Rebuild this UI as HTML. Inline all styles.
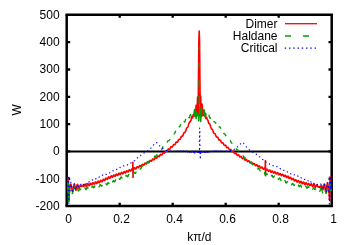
<!DOCTYPE html>
<html><head><meta charset="utf-8">
<style>
html,body{margin:0;padding:0;background:#fff;}
svg{display:block;will-change:transform;}
text{font-family:"Liberation Sans",sans-serif;font-size:12px;fill:#000;}
</style></head>
<body>
<svg width="350" height="245" viewBox="0 0 350 245">
<rect width="350" height="245" fill="#fff"/>
<g fill="none" stroke="#000">
<path d="M65.45 14.78H332.95" stroke-width="2.55"/>
<path d="M65.45 206.05H332.95" stroke-width="2.4"/>
<path d="M66.7 14.78V206.05M331.7 14.78V206.05" stroke-width="2.5"/>
<path d="M66.7 178.77h3.5M331.7 178.77h-3.2M66.7 151.45h3.5M331.7 151.45h-3.2M66.7 124.13h3.5M331.7 124.13h-3.2M66.7 96.80h3.5M331.7 96.80h-3.2M66.7 69.48h3.5M331.7 69.48h-3.2M66.7 42.15h3.5M331.7 42.15h-3.2M119.70 206.05v-3.2M119.70 14.78v3.0M172.70 206.05v-3.2M172.70 14.78v3.0M225.70 206.05v-3.2M225.70 14.78v3.0M278.70 206.05v-3.2M278.70 14.78v3.0" stroke-width="2.3"/>
<path d="M66.7 151.45H331.7" stroke-width="2.15"/>
</g>
<g fill="none" stroke-linejoin="round" stroke-linecap="butt">
<path d="M67.60 187.31 L67.80 189.57 L68.01 178.61 L68.21 179.41 L68.41 179.84 L68.62 201.11 L68.82 200.52 L69.02 199.13 L69.22 192.98 L69.43 192.00 L69.63 190.55 L69.83 188.92 L70.04 186.59 L70.24 184.82 L70.44 184.32 L70.65 184.83 L70.85 183.96 L71.05 184.74 L71.26 186.08 L71.46 185.92 L71.66 187.60 L71.86 188.97 L72.07 189.08 L72.27 190.11 L72.47 190.90 L72.68 190.29 L72.88 190.41 L73.08 190.03 L73.29 189.06 L73.49 187.81 L73.69 186.44 L73.90 185.57 L74.10 184.65 L74.30 184.27 L74.50 184.22 L74.71 185.00 L74.91 185.85 L75.11 186.74 L75.32 188.11 L75.52 189.03 L75.72 189.86 L75.93 190.09 L76.13 189.99 L76.33 189.14 L76.54 188.11 L76.74 187.01 L76.94 185.73 L77.14 185.03 L77.35 184.27 L77.55 184.44 L77.75 184.75 L77.96 185.49 L78.16 186.45 L78.36 187.29 L78.57 187.94 L78.77 188.19 L78.97 188.22 L79.18 188.05 L79.38 187.43 L79.58 186.80 L79.78 186.22 L79.99 185.68 L80.19 185.30 L80.39 185.35 L80.60 185.60 L80.80 185.83 L81.00 186.27 L81.21 186.49 L81.41 186.55 L81.61 186.40 L81.82 186.25 L82.02 185.87 L82.22 185.64 L82.42 185.51 L82.63 185.54 L82.83 185.64 L83.03 185.85 L83.24 186.15 L83.44 186.38 L83.64 186.46 L83.85 186.35 L84.05 186.08 L84.25 185.64 L84.46 185.16 L84.66 184.69 L84.86 184.34 L85.06 184.22 L85.27 184.39 L85.47 184.76 L85.67 185.24 L85.88 185.77 L86.08 186.21 L86.28 186.38 L86.49 186.38 L86.69 186.04 L86.89 185.52 L87.10 184.89 L87.30 184.27 L87.50 183.76 L87.70 183.54 L87.91 183.54 L88.11 183.85 L88.31 184.34 L88.52 184.86 L88.72 185.33 L88.92 185.63 L89.13 185.68 L89.33 185.45 L89.53 185.00 L89.74 184.45 L89.94 183.90 L90.14 183.44 L90.34 183.22 L90.55 183.22 L90.75 183.45 L90.95 183.82 L91.16 184.23 L91.36 184.58 L91.56 184.79 L91.77 184.75 L91.97 184.51 L92.17 184.11 L92.38 183.61 L92.58 183.16 L92.78 182.83 L92.98 182.69 L93.19 182.78 L93.39 183.06 L93.59 183.44 L93.80 183.80 L94.00 184.07 L94.20 184.17 L94.41 184.03 L94.61 183.69 L94.81 183.22 L95.02 182.71 L95.22 182.27 L95.42 181.98 L95.62 181.93 L95.83 182.10 L96.03 182.43 L96.23 182.84 L96.44 183.23 L96.64 183.49 L96.84 183.53 L97.05 183.34 L97.25 182.95 L97.45 182.43 L97.66 181.89 L97.86 181.44 L98.06 181.17 L98.26 181.13 L98.47 181.32 L98.67 181.67 L98.87 182.09 L99.08 182.47 L99.28 182.71 L99.48 182.73 L99.69 182.52 L99.89 182.10 L100.09 181.58 L100.30 181.05 L100.50 180.62 L100.70 180.37 L100.91 180.35 L101.11 180.54 L101.31 180.87 L101.51 181.26 L101.72 181.58 L101.92 181.75 L102.12 181.71 L102.33 181.44 L102.53 181.00 L102.73 180.46 L102.94 179.94 L103.14 179.54 L103.34 179.33 L103.55 179.34 L103.75 179.54 L103.95 179.87 L104.15 180.22 L104.36 180.49 L104.56 180.60 L104.76 180.49 L104.97 180.17 L105.17 179.69 L105.37 179.15 L105.58 178.64 L105.78 178.28 L105.98 178.11 L106.19 178.16 L106.39 178.40 L106.59 178.74 L106.79 179.08 L107.00 179.32 L107.20 179.39 L107.40 179.23 L107.61 178.87 L107.81 178.38 L108.01 177.84 L108.22 177.36 L108.42 177.03 L108.62 176.91 L108.83 177.01 L109.03 177.28 L109.23 177.64 L109.43 177.98 L109.64 178.21 L109.84 178.25 L110.04 178.07 L110.25 177.70 L110.45 177.20 L110.65 176.68 L110.86 176.24 L111.06 175.96 L111.26 175.90 L111.47 176.04 L111.67 176.34 L111.87 176.70 L112.07 177.03 L112.28 177.23 L112.48 177.23 L112.68 177.02 L112.89 176.63 L113.09 176.14 L113.29 175.64 L113.50 175.24 L113.70 175.01 L113.90 174.99 L114.11 175.17 L114.31 175.49 L114.51 175.85 L114.71 176.16 L114.92 176.32 L115.12 176.28 L115.32 176.03 L115.53 175.63 L115.73 175.13 L115.93 174.65 L116.14 174.29 L116.34 174.11 L116.54 174.13 L116.75 174.35 L116.95 174.68 L117.15 175.04 L117.35 175.32 L117.56 175.44 L117.76 175.37 L117.96 175.09 L118.17 174.66 L118.37 174.17 L118.57 173.72 L118.78 173.39 L118.98 173.25 L119.18 173.32 L119.39 173.56 L119.59 173.90 L119.79 174.25 L119.99 174.50 L120.20 174.59 L120.40 174.47 L120.60 174.16 L120.81 173.72 L121.01 173.24 L121.21 172.80 L121.42 172.51 L121.62 172.42 L121.82 172.52 L122.03 172.78 L122.23 173.13 L122.43 173.46 L122.63 173.68 L122.84 173.73 L123.04 173.57 L123.24 173.24 L123.45 172.78 L123.65 172.30 L123.85 171.90 L124.06 171.64 L124.26 171.59 L124.46 171.72 L124.67 172.00 L124.87 172.34 L125.07 172.65 L125.27 172.84 L125.48 172.84 L125.68 172.65 L125.88 172.29 L126.09 171.82 L126.29 171.36 L126.49 170.98 L126.70 170.76 L126.90 170.74 L127.10 170.90 L127.31 171.19 L127.51 171.53 L127.71 171.81 L127.91 171.96 L128.12 171.92 L128.32 171.68 L128.52 171.29 L128.73 170.83 L128.93 170.37 L129.13 170.02 L129.34 169.83 L129.54 169.85 L129.74 170.03 L129.95 170.33 L130.15 170.65 L130.35 170.90 L130.55 171.01 L130.76 170.93 L130.96 170.66 L131.16 170.25 L131.37 169.77 L131.57 169.33 L131.77 169.00 L131.98 168.85 L132.18 168.89 L132.38 169.10 L132.59 169.40 L132.79 169.70 L132.65 169.92 L132.90 162.42 L133.00 177.42 L133.25 169.92 L133.19 169.98 L133.40 169.86 L133.60 169.55 L133.80 169.12 L134.01 168.64 L134.21 168.22 L134.41 167.92 L134.62 167.80 L134.82 167.87 L135.02 168.09 L135.23 168.39 L135.43 168.67 L135.63 168.86 L135.83 168.88 L136.04 168.71 L136.24 168.37 L136.44 167.93 L136.65 167.46 L136.85 167.05 L137.05 166.79 L137.26 166.70 L137.46 166.80 L137.66 167.03 L137.87 167.32 L138.07 167.58 L138.27 167.73 L138.47 167.71 L138.68 167.50 L138.88 167.14 L139.08 166.68 L139.29 166.22 L139.49 165.84 L139.69 165.60 L139.90 165.55 L140.10 165.67 L140.30 165.91 L140.51 166.20 L140.71 166.43 L140.91 166.54 L141.11 166.48 L141.32 166.24 L141.52 165.85 L141.72 165.38 L141.93 164.93 L142.13 164.57 L142.33 164.37 L142.54 164.35 L142.74 164.49 L142.94 164.74 L143.15 165.01 L143.35 165.22 L143.55 165.29 L143.75 165.19 L143.96 164.91 L144.16 164.50 L144.36 164.03 L144.57 163.59 L144.77 163.26 L144.97 163.09 L145.18 163.10 L145.38 163.26 L145.58 163.51 L145.79 163.77 L145.99 163.94 L146.19 163.98 L146.39 163.84 L146.60 163.53 L146.80 163.10 L147.00 162.63 L147.21 162.21 L147.41 161.91 L147.61 161.77 L147.82 161.81 L148.02 161.98 L148.22 162.23 L148.43 162.47 L148.63 162.61 L148.83 162.61 L149.03 162.43 L149.24 162.09 L149.44 161.65 L149.64 161.19 L149.85 160.78 L150.05 160.51 L150.25 160.40 L150.46 160.46 L150.66 160.65 L150.86 160.89 L151.07 161.11 L151.27 161.22 L151.47 161.17 L151.67 160.96 L151.88 160.59 L152.08 160.14 L152.28 159.69 L152.49 159.30 L152.69 159.06 L152.89 158.98 L153.10 159.06 L153.30 159.26 L153.50 159.49 L153.71 159.68 L153.91 159.76 L154.11 159.67 L154.31 159.42 L154.52 159.03 L154.72 158.58 L154.92 158.13 L155.13 157.77 L155.33 157.55 L155.53 157.50 L155.74 157.60 L155.94 157.80 L156.14 158.02 L156.35 158.18 L156.55 158.22 L156.75 158.10 L156.95 157.81 L157.16 157.40 L157.36 156.94 L157.56 156.51 L157.77 156.17 L157.97 155.98 L158.17 155.95 L158.38 156.07 L158.58 156.26 L158.78 156.47 L158.99 156.60 L159.19 156.60 L159.39 156.44 L159.59 156.12 L159.80 155.70 L160.00 155.23 L160.20 154.81 L160.41 154.50 L160.61 154.33 L160.81 154.33 L161.02 154.45 L161.22 154.65 L161.42 154.83 L161.63 154.93 L161.83 154.89 L162.03 154.69 L162.23 154.35 L162.44 153.91 L162.64 153.45 L162.84 153.04 L163.05 152.75 L163.25 152.61 L163.45 152.62 L163.66 152.76 L163.86 152.94 L164.06 153.10 L164.27 153.17 L164.47 153.09 L164.67 152.86 L164.87 152.48 L165.08 152.03 L165.28 151.57 L165.48 151.18 L165.69 150.91 L165.89 150.80 L166.09 150.83 L166.30 150.97 L166.50 151.14 L166.70 151.27 L166.91 151.30 L167.11 151.18 L167.31 150.91 L167.52 150.51 L167.72 150.05 L167.92 149.59 L168.12 149.21 L168.33 148.96 L168.53 148.87 L168.73 148.91 L168.94 149.04 L169.14 149.19 L169.34 149.29 L169.55 149.27 L169.75 149.11 L169.95 148.80 L170.16 148.37 L170.36 147.90 L170.56 147.44 L170.76 147.08 L170.97 146.84 L171.17 146.76 L171.37 146.81 L171.58 146.93 L171.78 147.06 L171.98 147.12 L172.19 147.07 L172.39 146.86 L172.59 146.51 L172.80 146.07 L173.00 145.58 L173.20 145.13 L173.40 144.78 L173.61 144.56 L173.81 144.50 L174.01 144.54 L174.22 144.66 L174.42 144.76 L174.62 144.79 L174.83 144.69 L175.03 144.44 L175.23 144.06 L175.44 143.59 L175.64 143.10 L175.84 142.66 L176.04 142.32 L176.25 142.12 L176.45 142.06 L176.65 142.11 L176.86 142.20 L177.06 142.27 L177.26 142.25 L177.47 142.10 L177.67 141.81 L177.87 141.39 L178.08 140.90 L178.28 140.39 L178.48 139.95 L178.68 139.61 L178.89 139.41 L179.09 139.35 L179.29 139.38 L179.50 139.44 L179.70 139.46 L179.90 139.39 L180.11 139.19 L180.31 138.84 L180.51 138.37 L180.72 137.84 L180.92 137.31 L181.12 136.85 L181.32 136.51 L181.53 136.31 L181.73 136.23 L181.93 136.23 L182.14 136.26 L182.34 136.23 L182.54 136.10 L182.75 135.82 L182.95 135.41 L183.15 134.88 L183.36 134.30 L183.56 133.74 L183.76 133.25 L183.96 132.88 L184.17 132.65 L184.37 132.54 L184.57 132.50 L184.78 132.46 L184.98 132.36 L185.18 132.13 L185.39 131.75 L185.59 131.23 L185.79 130.60 L186.00 129.93 L186.20 129.28 L186.40 128.73 L186.60 128.30 L186.81 128.00 L187.01 127.82 L187.21 127.69 L187.42 127.55 L187.62 127.34 L187.82 126.99 L188.03 126.50 L188.23 125.89 L188.43 125.16 L188.64 124.39 L188.84 123.71 L189.04 123.21 L189.24 122.87 L189.45 122.61 L189.65 122.32 L189.85 121.97 L190.06 121.62 L190.26 121.37 L190.46 121.24 L190.67 121.10 L190.87 120.70 L191.07 119.89 L191.28 118.74 L191.48 117.60 L191.68 116.91 L191.88 116.92 L192.09 117.47 L192.29 118.01 L192.49 117.96 L192.70 117.11 L192.90 115.81 L193.10 114.78 L193.31 114.62 L193.51 115.31 L193.71 116.12 L193.92 116.06 L194.12 114.59 L194.32 112.15 L194.52 110.07 L194.73 109.69 L194.93 111.40 L195.13 114.16 L195.34 115.97 L195.54 115.19 L195.74 111.78 L195.95 107.59 L196.15 105.30 L196.35 106.60 L196.56 110.77 L196.76 114.77 L196.96 115.14 L197.16 110.41 L197.37 102.67 L197.57 96.95 L197.77 97.99 L197.98 106.17 L198.18 116.32 L198.38 95.07 L198.59 94.71 L198.79 94.30 L198.99 93.90 L198.30 96.00 L198.85 42.00 L199.20 31.00 L199.55 42.00 L200.10 96.00 L199.40 93.47 L199.60 93.54 L199.80 93.80 L200.01 94.23 L200.21 109.28 L200.41 99.65 L200.62 96.14 L200.82 100.50 L201.02 108.80 L201.23 115.18 L201.43 116.14 L201.63 112.30 L201.84 107.02 L202.04 104.01 L202.24 105.06 L202.44 109.12 L202.65 113.46 L202.85 115.62 L203.05 114.90 L203.26 112.51 L203.46 110.50 L203.66 110.32 L203.87 111.97 L204.07 114.26 L204.27 115.74 L204.48 115.72 L204.68 114.58 L204.88 113.43 L205.08 113.26 L205.29 114.34 L205.49 116.13 L205.69 117.74 L205.90 118.51 L206.10 118.37 L206.30 117.79 L206.51 117.38 L206.71 117.49 L206.91 118.09 L207.12 118.84 L207.32 119.41 L207.52 119.72 L207.72 119.94 L207.93 120.30 L208.13 120.94 L208.33 121.78 L208.54 122.60 L208.74 123.20 L208.94 123.50 L209.15 123.59 L209.35 123.63 L209.55 123.76 L209.76 124.04 L209.96 124.46 L210.16 124.99 L210.36 125.61 L210.57 126.33 L210.77 127.05 L210.97 127.71 L211.18 128.24 L211.38 128.63 L211.58 128.89 L211.79 129.04 L211.99 129.14 L212.19 129.27 L212.40 129.49 L212.60 129.83 L212.80 130.31 L213.00 130.89 L213.21 131.53 L213.41 132.16 L213.61 132.71 L213.82 133.13 L214.02 133.40 L214.22 133.53 L214.43 133.57 L214.63 133.59 L214.83 133.64 L215.04 133.79 L215.24 134.07 L215.44 134.49 L215.64 135.01 L215.85 135.57 L216.05 136.12 L216.25 136.58 L216.46 136.92 L216.66 137.10 L216.86 137.17 L217.07 137.15 L217.27 137.11 L217.47 137.13 L217.68 137.26 L217.88 137.53 L218.08 137.92 L218.28 138.42 L218.49 138.95 L218.69 139.44 L218.89 139.85 L219.10 140.12 L219.30 140.24 L219.50 140.25 L219.71 140.19 L219.91 140.12 L220.11 140.13 L220.32 140.25 L220.52 140.51 L220.72 140.90 L220.92 141.38 L221.13 141.88 L221.33 142.34 L221.53 142.69 L221.74 142.91 L221.94 142.98 L222.14 142.94 L222.35 142.84 L222.55 142.75 L222.75 142.75 L222.96 142.87 L223.16 143.14 L223.36 143.53 L223.56 144.01 L223.77 144.49 L223.97 144.92 L224.17 145.23 L224.38 145.40 L224.58 145.43 L224.78 145.35 L224.99 145.23 L225.19 145.14 L225.39 145.14 L225.60 145.27 L225.80 145.56 L226.00 145.97 L226.20 146.44 L226.41 146.91 L226.61 147.31 L226.81 147.59 L227.02 147.71 L227.22 147.70 L227.42 147.59 L227.63 147.45 L227.83 147.36 L228.03 147.37 L228.24 147.52 L228.44 147.82 L228.64 148.24 L228.84 148.71 L229.05 149.17 L229.25 149.54 L229.45 149.77 L229.66 149.86 L229.86 149.80 L230.06 149.66 L230.27 149.51 L230.47 149.41 L230.67 149.43 L230.88 149.60 L231.08 149.92 L231.28 150.34 L231.48 150.81 L231.69 151.25 L231.89 151.59 L232.09 151.78 L232.30 151.82 L232.50 151.72 L232.70 151.55 L232.91 151.39 L233.11 151.29 L233.31 151.33 L233.52 151.52 L233.72 151.86 L233.92 152.29 L234.13 152.76 L234.33 153.18 L234.53 153.48 L234.73 153.63 L234.94 153.63 L235.14 153.51 L235.34 153.32 L235.55 153.15 L235.75 153.07 L235.95 153.13 L236.16 153.34 L236.36 153.70 L236.56 154.15 L236.77 154.61 L236.97 155.00 L237.17 155.28 L237.37 155.39 L237.58 155.35 L237.78 155.20 L237.98 155.00 L238.19 154.83 L238.39 154.76 L238.59 154.84 L238.80 155.08 L239.00 155.46 L239.20 155.91 L239.41 156.37 L239.61 156.74 L239.81 156.98 L240.01 157.06 L240.22 156.98 L240.42 156.80 L240.62 156.59 L240.83 156.42 L241.03 156.37 L241.23 156.48 L241.44 156.75 L241.64 157.14 L241.84 157.60 L242.05 158.05 L242.25 158.40 L242.45 158.60 L242.65 158.64 L242.86 158.53 L243.06 158.32 L243.26 158.10 L243.47 157.94 L243.67 157.91 L243.87 158.05 L244.08 158.34 L244.28 158.75 L244.48 159.22 L244.69 159.65 L244.89 159.97 L245.09 160.14 L245.29 160.14 L245.50 159.99 L245.70 159.77 L245.90 159.54 L246.11 159.39 L246.31 159.39 L246.51 159.55 L246.72 159.87 L246.92 160.30 L247.12 160.77 L247.33 161.18 L247.53 161.47 L247.73 161.60 L247.93 161.56 L248.14 161.39 L248.34 161.14 L248.54 160.92 L248.75 160.78 L248.95 160.80 L249.15 161.00 L249.36 161.35 L249.56 161.79 L249.76 162.25 L249.97 162.65 L250.17 162.91 L250.37 163.00 L250.57 162.92 L250.78 162.72 L250.98 162.46 L251.18 162.24 L251.39 162.13 L251.59 162.18 L251.79 162.40 L252.00 162.77 L252.20 163.23 L252.40 163.69 L252.61 164.06 L252.81 164.29 L253.01 164.34 L253.21 164.22 L253.42 163.99 L253.62 163.73 L253.82 163.51 L254.03 163.42 L254.23 163.50 L254.43 163.76 L254.64 164.15 L254.84 164.62 L255.04 165.07 L255.25 165.41 L255.45 165.61 L255.65 165.62 L255.85 165.47 L256.06 165.21 L256.26 164.94 L256.46 164.73 L256.67 164.67 L256.87 164.78 L257.07 165.07 L257.28 165.48 L257.48 165.95 L257.68 166.39 L257.89 166.71 L258.09 166.86 L258.29 166.83 L258.49 166.65 L258.70 166.37 L258.90 166.10 L259.10 165.91 L259.31 165.87 L259.51 166.01 L259.71 166.33 L259.92 166.76 L260.12 167.24 L260.32 167.66 L260.53 167.95 L260.73 168.06 L260.93 167.99 L261.13 167.77 L261.34 167.48 L261.54 167.20 L261.74 167.03 L261.95 167.02 L262.15 167.20 L262.35 167.54 L262.56 167.99 L262.76 168.46 L262.96 168.86 L263.17 169.12 L263.37 169.19 L263.57 169.08 L263.77 168.83 L263.98 168.53 L264.18 168.26 L264.38 168.10 L264.59 168.13 L264.79 168.34 L264.99 168.71 L265.20 169.17 L265.15 169.63 L265.40 160.63 L265.50 175.63 L265.75 169.63 L265.60 170.01 L265.81 170.23 L266.01 170.26 L266.21 170.11 L266.41 169.83 L266.62 169.51 L266.82 169.25 L267.02 169.12 L267.23 169.17 L267.43 169.42 L267.63 169.81 L267.84 170.28 L268.04 170.73 L268.24 171.08 L268.45 171.26 L268.65 171.24 L268.85 171.05 L269.05 170.75 L269.26 170.42 L269.46 170.17 L269.66 170.06 L269.87 170.15 L270.07 170.43 L270.27 170.84 L270.48 171.32 L270.68 171.76 L270.88 172.07 L271.09 172.21 L271.29 172.15 L271.49 171.92 L271.69 171.60 L271.90 171.27 L272.10 171.03 L272.30 170.96 L272.51 171.08 L272.71 171.39 L272.91 171.82 L273.12 172.30 L273.32 172.72 L273.52 173.01 L273.73 173.10 L273.93 173.00 L274.13 172.74 L274.33 172.40 L274.54 172.07 L274.74 171.86 L274.94 171.82 L275.15 171.98 L275.35 172.32 L275.55 172.77 L275.76 173.25 L275.96 173.65 L276.16 173.91 L276.37 173.96 L276.57 173.81 L276.77 173.53 L276.97 173.17 L277.18 172.86 L277.38 172.67 L277.58 172.66 L277.79 172.86 L277.99 173.24 L278.19 173.71 L278.40 174.19 L278.60 174.57 L278.80 174.79 L279.01 174.80 L279.21 174.62 L279.41 174.30 L279.61 173.94 L279.82 173.64 L280.02 173.48 L280.22 173.52 L280.43 173.76 L280.63 174.17 L280.83 174.65 L281.04 175.13 L281.24 175.49 L281.44 175.67 L281.65 175.64 L281.85 175.43 L282.05 175.09 L282.25 174.73 L282.46 174.45 L282.66 174.32 L282.86 174.40 L283.07 174.69 L283.27 175.12 L283.47 175.62 L283.68 176.09 L283.88 176.43 L284.08 176.57 L284.29 176.51 L284.49 176.26 L284.69 175.91 L284.89 175.56 L285.10 175.30 L285.30 175.22 L285.50 175.34 L285.71 175.67 L285.91 176.13 L286.11 176.64 L286.32 177.10 L286.52 177.41 L286.72 177.51 L286.93 177.41 L287.13 177.14 L287.33 176.78 L287.53 176.44 L287.74 176.21 L287.94 176.17 L288.14 176.35 L288.35 176.72 L288.55 177.22 L288.75 177.74 L288.96 178.18 L289.16 178.46 L289.36 178.53 L289.57 178.40 L289.77 178.10 L289.97 177.74 L290.17 177.42 L290.38 177.24 L290.58 177.25 L290.78 177.49 L290.99 177.91 L291.19 178.44 L291.39 178.98 L291.60 179.42 L291.80 179.68 L292.00 179.72 L292.21 179.55 L292.41 179.24 L292.61 178.88 L292.81 178.57 L293.02 178.42 L293.22 178.47 L293.42 178.75 L293.63 179.20 L293.83 179.75 L294.03 180.28 L294.24 180.69 L294.44 180.92 L294.64 180.92 L294.85 180.72 L295.05 180.38 L295.25 180.02 L295.45 179.74 L295.66 179.61 L295.86 179.70 L296.06 180.01 L296.27 180.47 L296.47 181.00 L296.67 181.50 L296.88 181.86 L297.08 182.02 L297.28 181.96 L297.49 181.70 L297.69 181.34 L297.89 180.97 L298.09 180.70 L298.30 180.61 L298.50 180.74 L298.70 181.07 L298.91 181.55 L299.11 182.08 L299.31 182.54 L299.52 182.84 L299.72 182.92 L299.92 182.77 L300.13 182.46 L300.33 182.05 L300.53 181.66 L300.74 181.40 L300.94 181.35 L301.14 181.52 L301.34 181.91 L301.55 182.43 L301.75 182.98 L301.95 183.44 L302.16 183.72 L302.36 183.76 L302.56 183.57 L302.77 183.21 L302.97 182.76 L303.17 182.34 L303.38 182.07 L303.58 182.03 L303.78 182.21 L303.98 182.61 L304.19 183.15 L304.39 183.69 L304.59 184.15 L304.80 184.42 L305.00 184.46 L305.20 184.26 L305.41 183.91 L305.61 183.48 L305.81 183.09 L306.02 182.85 L306.22 182.81 L306.42 183.02 L306.62 183.40 L306.83 183.88 L307.03 184.36 L307.23 184.72 L307.44 184.92 L307.64 184.91 L307.84 184.69 L308.05 184.35 L308.25 183.98 L308.45 183.68 L308.66 183.55 L308.86 183.63 L309.06 183.93 L309.26 184.34 L309.47 184.84 L309.67 185.22 L309.87 185.51 L310.08 185.55 L310.28 185.35 L310.48 185.02 L310.69 184.58 L310.89 184.17 L311.09 183.90 L311.30 183.86 L311.50 184.08 L311.70 184.51 L311.90 185.13 L312.11 185.72 L312.31 186.22 L312.51 186.57 L312.72 186.53 L312.92 186.28 L313.12 185.80 L313.33 185.20 L313.53 184.57 L313.73 184.12 L313.94 184.00 L314.14 184.14 L314.34 184.58 L314.54 185.18 L314.75 185.96 L314.95 186.62 L315.15 187.12 L315.36 187.32 L315.56 187.23 L315.76 186.87 L315.97 186.39 L316.17 185.74 L316.37 185.30 L316.58 185.00 L316.78 184.90 L316.98 184.94 L317.18 185.31 L317.39 185.86 L317.59 186.28 L317.79 186.55 L318.00 186.85 L318.20 187.01 L318.40 186.99 L318.61 186.81 L318.81 186.59 L319.01 186.55 L319.22 186.52 L319.42 186.65 L319.62 186.76 L319.82 187.07 L320.03 187.11 L320.23 186.93 L320.43 186.82 L320.64 186.21 L320.84 185.82 L321.04 185.62 L321.25 185.43 L321.45 185.38 L321.65 186.11 L321.86 186.71 L322.06 187.60 L322.26 188.44 L322.46 189.35 L322.67 189.57 L322.87 189.73 L323.07 189.46 L323.28 188.54 L323.48 187.28 L323.68 185.67 L323.89 184.64 L324.09 184.26 L324.29 183.97 L324.50 184.26 L324.70 184.67 L324.90 186.12 L325.10 187.91 L325.31 190.09 L325.51 190.90 L325.71 191.74 L325.92 191.91 L326.12 191.82 L326.32 190.44 L326.53 189.20 L326.73 186.55 L326.93 184.82 L327.14 184.45 L327.34 182.74 L327.54 183.40 L327.74 183.80 L327.95 184.36 L328.15 186.00 L328.35 188.54 L328.56 189.21 L328.76 192.37 L328.96 192.01 L329.17 192.86 L329.37 199.55 L329.57 198.43 L329.78 200.43 L329.98 177.08 L330.18 176.79 L330.38 177.53 L330.59 189.36 L330.79 190.43 L330.99 188.81 L331.20 188.90 L331.40 188.94" stroke="#ff0000" stroke-width="1.6"/>
<path d="M67.60 192.08 L67.80 192.36 L68.01 182.31 L68.21 182.14 L68.41 182.83 L68.62 201.76 L68.82 200.36 L69.02 201.24 L69.22 193.24 L69.43 192.94 L69.63 191.55 L69.83 189.59M71.86 192.43 L72.07 192.66 L72.27 193.51 L72.47 193.14 L72.68 193.25 L72.88 191.84 L73.08 190.92 L73.29 189.84 L73.49 188.86 L73.69 188.28 L73.90 187.04 L74.10 187.29 L74.30 187.25 L74.50 188.22 L74.71 189.19M77.35 187.77 L77.55 188.35 L77.75 189.27 L77.96 189.85 L78.16 190.47 L78.36 190.96 L78.57 190.86 L78.77 190.82 L78.97 190.40 L79.18 189.86 L79.38 189.56 L79.58 189.06 L79.78 188.83 L79.99 188.88 L80.19 189.02 L80.39 189.08 L80.60 189.25 L80.80 189.53 L81.00 189.44 L81.21 189.36M84.46 187.62 L84.66 187.51 L84.86 187.63 L85.06 187.98 L85.27 188.41 L85.47 188.91 L85.67 189.33 L85.88 189.58 L86.08 189.53 L86.28 189.27 L86.49 188.82 L86.69 188.24 L86.89 187.67 L87.10 187.22 L87.30 186.98 L87.50 186.98 L87.70 187.22 L87.91 187.62 L88.11 188.09 L88.31 188.53M91.56 187.86 L91.77 187.50 L91.97 187.07 L92.17 186.67 L92.38 186.40 L92.58 186.31 L92.78 186.40 L92.98 186.67 L93.19 187.03 L93.39 187.38 L93.59 187.63 L93.80 187.70 L94.00 187.57 L94.20 187.27 L94.41 186.83 L94.61 186.37 L94.81 185.97 L95.02 185.73 L95.22 185.70M98.67 186.45 L98.87 186.68 L99.08 186.71 L99.28 186.52 L99.48 186.15 L99.69 185.68 L99.89 185.20 L100.09 184.82 L100.30 184.61 L100.50 184.62 L100.70 184.83 L100.91 185.17 L101.11 185.56 L101.31 185.89 L101.51 186.08 L101.72 186.06 L101.92 185.84 L102.12 185.44 L102.33 184.97M105.58 183.37 L105.78 183.46 L105.98 183.74 L106.19 184.11 L106.39 184.48 L106.59 184.74 L106.79 184.83 L107.00 184.71 L107.20 184.39 L107.40 183.94 L107.61 183.44 L107.81 183.00 L108.01 182.72 L108.22 182.64 L108.42 182.76 L108.62 183.06 L108.83 183.43 L109.03 183.78 L109.23 184.01M112.48 182.41 L112.68 181.89 L112.89 181.37 L113.09 180.95 L113.29 180.71 L113.50 180.67 L113.70 180.83 L113.90 181.12 L114.11 181.46 L114.31 181.73 L114.51 181.86 L114.71 181.78 L114.92 181.49 L115.12 181.04 L115.32 180.51 L115.53 179.99 L115.73 179.59 L115.93 179.38M118.98 178.32 L119.18 178.65 L119.39 178.98 L119.59 179.22 L119.79 179.28 L119.99 179.13 L120.20 178.79 L120.40 178.31 L120.60 177.78 L120.81 177.32 L121.01 177.01 L121.21 176.91 L121.42 177.02 L121.62 177.29 L121.82 177.65 L122.03 177.99 L122.23 178.22 L122.43 178.26M125.68 176.42 L125.88 175.93 L126.09 175.55 L126.29 175.34 L126.49 175.35 L126.70 175.55 L126.90 175.89 L127.10 176.27 L127.31 176.59 L127.51 176.76 L127.71 176.73 L127.91 176.49 L128.12 176.09 L128.32 175.60 L128.52 175.13 L128.73 174.77 L128.93 174.59 L129.13 174.63 L129.34 174.86M132.99 174.75 L133.19 174.41 L133.40 173.93 L133.60 173.40 L133.80 172.92 L134.01 172.58 L134.21 172.42 L134.41 172.46 L134.62 172.64 L134.82 172.90 L135.02 173.13 L135.23 173.26 L135.43 173.21 L135.63 172.96 L135.83 172.53 L136.04 171.99 L136.24 171.43M139.69 168.41 L139.90 168.59 L140.10 168.81 L140.30 168.98 L140.51 169.02 L140.71 168.89 L140.91 168.57 L141.11 168.12 L141.32 167.59 L141.52 167.08 L141.72 166.66 L141.93 166.41 L142.13 166.33 L142.33 166.41 L142.54 166.59 L142.74 166.79M146.60 163.26 L146.80 162.81 L147.00 162.47 L147.21 162.29 L147.41 162.27 L147.61 162.38 L147.82 162.55 L148.02 162.71 L148.22 162.78 L148.43 162.71 L148.63 162.48 L148.83 162.10 L149.03 161.63 L149.24 161.15 L149.44 160.72 L149.64 160.41 L149.85 160.26M154.11 157.62 L154.31 157.15 L154.52 156.69 L154.72 156.30 L154.92 156.05 L155.13 155.93 L155.33 155.94 L155.53 156.03 L155.74 156.14 L155.94 156.19 L156.14 156.13 L156.35 155.93 L156.55 155.59 L156.75 155.15 L156.95 154.66 L157.16 154.20M161.02 150.18 L161.22 150.09 L161.42 149.88 L161.63 149.54 L161.83 149.09 L162.03 148.57 L162.23 148.03 L162.44 147.55 L162.64 147.15 L162.84 146.88 L163.05 146.74 L163.25 146.68 L163.45 146.67M167.11 142.43 L167.31 141.98 L167.52 141.53 L167.72 141.15 L167.92 140.88 L168.12 140.71 L168.33 140.64 L168.53 140.62 L168.73 140.62 L168.94 140.57 L169.14 140.44 L169.34 140.20 L169.55 139.86 L169.75 139.45 L169.95 139.00M173.61 134.24 L173.81 134.12 L174.01 133.99 L174.22 133.82 L174.42 133.58 L174.62 133.26 L174.83 132.85 L175.03 132.40 L175.23 131.92 L175.44 131.47 L175.64 131.07 L175.84 130.74M178.68 126.88 L178.89 126.81 L179.09 126.79 L179.29 126.79 L179.50 126.74 L179.70 126.60 L179.90 126.34 L180.11 125.97 L180.31 125.52 L180.51 125.05 L180.72 124.61 L180.92 124.27M183.56 121.57 L183.76 121.53 L183.96 121.65 L184.17 121.84 L184.37 122.01 L184.57 122.04 L184.78 121.88 L184.98 121.50 L185.18 120.95 L185.39 120.33 L185.59 119.75 L185.79 119.33 L186.00 119.13M188.64 117.02 L188.84 117.37 L189.04 117.67 L189.24 117.75 L189.45 117.53 L189.65 116.99 L189.85 116.25 L190.06 115.47 L190.26 114.87 L190.46 114.60 L190.67 114.73 L190.87 115.21 L191.07 115.85M193.71 116.48 L193.92 116.30 L194.12 115.27 L194.32 113.61 L194.52 111.76 L194.73 110.31 L194.93 109.73 L195.13 110.31 L195.34 111.97 L195.54 114.31 L195.74 116.64 L195.95 118.23 L196.15 118.50 L196.35 117.21 L196.56 114.62 L196.76 111.42M198.59 121.40 L198.79 113.60 L198.99 113.55 L199.20 113.60 L199.40 113.61 L199.60 113.70 L199.80 107.21 L200.01 111.78 L200.21 116.57 L200.41 120.15 L200.62 121.58 L200.82 120.62 L201.02 117.72 L201.23 113.88 L201.43 110.25 L201.63 107.87M203.46 114.70 L203.66 112.34 L203.87 110.53 L204.07 109.73 L204.27 110.09 L204.48 111.44 L204.68 113.31 L204.88 115.17 L205.08 116.51 L205.29 117.04 L205.49 116.71 L205.69 115.72 L205.90 114.45 L206.10 113.30M208.54 115.40 L208.74 115.29 L208.94 115.53 L209.15 116.05 L209.35 116.72 L209.55 117.38 L209.76 117.91 L209.96 118.22 L210.16 118.31 L210.36 118.25 L210.57 118.13 L210.77 118.05 L210.97 118.10M213.61 121.17 L213.82 121.45 L214.02 121.68 L214.22 121.84 L214.43 121.94 L214.63 121.99 L214.83 122.05 L215.04 122.17 L215.24 122.36 L215.44 122.64 L215.64 122.99 L215.85 123.37 L216.05 123.72M218.69 126.56 L218.89 126.76 L219.10 126.84 L219.30 126.86 L219.50 126.85 L219.71 126.89 L219.91 127.02 L220.11 127.28 L220.32 127.66 L220.52 128.13 L220.72 128.64M223.56 132.96 L223.77 133.34 L223.97 133.61 L224.17 133.79 L224.38 133.89 L224.58 133.98 L224.78 134.09 L224.99 134.27 L225.19 134.55 L225.39 134.92 L225.60 135.37 L225.80 135.86 L226.00 136.33M229.86 140.47 L230.06 140.52 L230.27 140.66 L230.47 140.90 L230.67 141.24 L230.88 141.66 L231.08 142.11 L231.28 142.54 L231.48 142.89 L231.69 143.15 L231.89 143.29 L232.09 143.35 L232.30 143.35 L232.50 143.35M236.16 148.17 L236.36 148.70 L236.56 149.19 L236.77 149.58 L236.97 149.84 L237.17 149.98 L237.37 150.02 L237.58 150.03 L237.78 150.07 L237.98 150.18 L238.19 150.42 L238.39 150.78 L238.59 151.24M242.65 155.96 L242.86 155.86 L243.06 155.81 L243.26 155.87 L243.47 156.07 L243.67 156.40 L243.87 156.84 L244.08 157.32 L244.28 157.76 L244.48 158.11 L244.69 158.33 L244.89 158.39 L245.09 158.33 L245.29 158.20 L245.50 158.07 L245.70 158.01 L245.90 158.08M250.17 162.66 L250.37 162.53 L250.57 162.35 L250.78 162.20 L250.98 162.16 L251.18 162.27 L251.39 162.55 L251.59 162.96 L251.79 163.46 L252.00 163.95 L252.20 164.36 L252.40 164.63 L252.61 164.74 L252.81 164.69 L253.01 164.54 L253.21 164.35 L253.42 164.21M257.28 168.30 L257.48 168.68 L257.68 168.89 L257.89 168.92 L258.09 168.80 L258.29 168.59 L258.49 168.38 L258.70 168.26 L258.90 168.29 L259.10 168.50 L259.31 168.89 L259.51 169.40 L259.71 169.94 L259.92 170.44 L260.12 170.80 L260.32 170.98 L260.53 170.98M263.98 172.33 L264.18 172.41 L264.38 172.68 L264.59 173.11 L264.79 173.63 L264.99 174.15 L265.20 174.56 L265.40 174.81 L265.60 174.84 L265.81 174.68 L266.01 174.39 L266.21 174.06 L266.41 173.79 L266.62 173.66 L266.82 173.72 L267.02 173.98 L267.23 174.40 L267.43 174.90M271.09 176.38 L271.29 176.01 L271.49 175.64 L271.69 175.37 L271.90 175.28 L272.10 175.41 L272.30 175.72 L272.51 176.17 L272.71 176.67 L272.91 177.10 L273.12 177.37 L273.32 177.45 L273.52 177.32 L273.73 177.02 L273.93 176.65 L274.13 176.29 L274.33 176.06 L274.54 176.01 L274.74 176.18M277.99 178.54 L278.19 178.95 L278.40 179.19 L278.60 179.21 L278.80 179.04 L279.01 178.74 L279.21 178.39 L279.41 178.11 L279.61 177.98 L279.82 178.06 L280.02 178.34 L280.22 178.80 L280.43 179.33 L280.63 179.84 L280.83 180.24 L281.04 180.44 L281.24 180.44 L281.44 180.25M284.49 180.87 L284.69 180.65 L284.89 180.60 L285.10 180.76 L285.30 181.12 L285.50 181.61 L285.71 182.14 L285.91 182.61 L286.11 182.92 L286.32 183.04 L286.52 182.94 L286.72 182.67 L286.93 182.32 L287.13 181.99 L287.33 181.78 L287.53 181.75 L287.74 181.93 L287.94 182.30M291.19 184.56 L291.39 184.77 L291.60 184.77 L291.80 184.57 L292.00 184.23 L292.21 183.85 L292.41 183.53 L292.61 183.35 L292.81 183.38 L293.02 183.61 L293.22 184.01 L293.42 184.48 L293.63 184.94 L293.83 185.29 L294.03 185.45 L294.24 185.40 L294.44 185.16 L294.64 184.80 L294.85 184.43M298.09 184.67 L298.30 184.99 L298.50 185.44 L298.70 185.93 L298.91 186.35 L299.11 186.63 L299.31 186.69 L299.52 186.55 L299.72 186.23 L299.92 185.83 L300.13 185.44 L300.33 185.18 L300.53 185.10 L300.74 185.24 L300.94 185.58 L301.14 186.04 L301.34 186.53 L301.55 186.94 L301.75 187.19 L301.95 187.24M305.20 186.77 L305.41 186.47 L305.61 186.29 L305.81 186.31 L306.02 186.53 L306.22 186.88 L306.42 187.32 L306.62 187.73 L306.83 188.02 L307.03 188.12 L307.23 188.03 L307.44 187.76 L307.64 187.40 L307.84 187.03 L308.05 186.76 L308.25 186.65 L308.45 186.75 L308.66 187.10 L308.86 187.53 L309.06 188.04M312.31 189.54 L312.51 189.41 L312.72 189.10 L312.92 188.71 L313.12 188.22 L313.33 187.82 L313.53 187.62 L313.73 187.63 L313.94 187.83 L314.14 188.18 L314.34 188.64 L314.54 189.04 L314.75 189.39 L314.95 189.61 L315.15 189.62 L315.36 189.38 L315.56 189.18 L315.76 188.94 L315.97 188.78 L316.17 188.72M319.42 190.69 L319.62 190.95 L319.82 191.25 L320.03 190.95 L320.23 190.48 L320.43 189.82 L320.64 189.10 L320.84 188.12 L321.04 187.65 L321.25 187.48 L321.45 188.06 L321.65 188.49 L321.86 189.54 L322.06 190.36 L322.26 191.71 L322.46 192.10 L322.67 192.77 L322.87 192.38 L323.07 192.34M325.31 191.10 L325.51 191.78 L325.71 192.62 L325.92 193.28 L326.12 193.20 L326.32 193.37 L326.53 192.57 L326.73 191.90 L326.93 190.20 L327.14 189.69 L327.34 188.43 L327.54 187.64 L327.74 187.22 L327.95 187.36 L328.15 187.33M330.38 183.30 L330.59 191.07 L330.79 190.71 L330.99 189.96 L331.20 189.95 L331.40 190.45" stroke="#00a000" stroke-width="1.4"/>
<path d="M199.20 46.5V50M199.20 63V67.5M199.20 79.5V87M199.20 96V104" stroke="#00a000" stroke-width="1.4"/>
<path d="M67.60 189.56 L67.80 190.13 L68.01 176.25 L68.21 176.69 L68.41 175.85 L68.62 202.27 L68.82 203.34 L69.02 202.44 L69.22 195.32 L69.43 193.26 L69.63 191.81 L69.83 188.61 L70.04 186.08 L70.24 184.93 L70.44 183.30 L70.65 182.82 L70.85 182.16 L71.05 183.94 L71.26 184.49 L71.46 187.41 L71.66 189.29 L71.86 190.86 L72.07 191.63 L72.27 192.65 L72.47 192.97 L72.68 192.01 L72.88 190.71 L73.08 188.56 L73.29 186.87 L73.49 185.78 L73.69 184.43 L73.90 183.75 L74.10 183.42 L74.30 183.93 L74.50 185.18 L74.71 185.99 L74.91 187.56 L75.11 188.17 L75.32 189.16 L75.52 189.60 L75.72 189.59 L75.93 189.22 L76.13 188.48 L76.33 187.62 L76.54 186.39 L76.74 185.62 L76.94 185.05 L77.14 184.74 L77.35 184.84 L77.55 184.90 L77.75 185.24 L77.96 185.57 L78.16 185.95 L78.36 186.19 L78.57 186.66 L78.77 186.80 L78.97 186.87 L79.18 186.89 L79.38 186.65 L79.58 186.47 L79.78 186.22 L79.99 185.89 L80.19 185.57 L80.39 185.22 L80.60 184.84 L80.80 184.45 L81.00 184.31 L81.21 184.08 L81.41 184.12 L81.61 184.30 L81.82 184.62 L82.02 184.86 L82.22 185.27 L82.42 185.49 L82.63 185.64 L82.83 185.55 L83.03 185.41 L83.24 184.98 L83.44 184.43 L83.64 183.97 L83.85 183.44 L84.05 183.10 L84.25 182.87 L84.46 182.87 L84.66 183.01 L84.86 183.25 L85.06 183.58 L85.27 183.82 L85.47 184.06 L85.67 184.11 L85.88 184.01 L86.08 183.73 L86.28 183.36 L86.49 182.96 L86.69 182.56 L86.89 182.25 L87.10 182.09 L87.30 182.00 L87.50 182.03 L87.70 182.13 L87.91 182.27 L88.11 182.36 L88.31 182.38 L88.52 182.28 L88.72 182.15 L88.92 181.95 L89.13 181.72 L89.33 181.51 L89.53 181.35 L89.74 181.27 L89.94 181.22 L90.14 181.26 L90.34 181.28 L90.55 181.26 L90.75 181.19 L90.95 181.04 L91.16 180.83 L91.36 180.59 L91.56 180.34 L91.77 180.12 L91.97 179.97 L92.17 179.91 L92.38 179.91 L92.58 180.00 L92.78 180.09 L92.98 180.16 L93.19 180.18 L93.39 180.09 L93.59 179.90 L93.80 179.64 L94.00 179.31 L94.20 178.99 L94.41 178.72 L94.61 178.52 L94.81 178.43 L95.02 178.45 L95.22 178.54 L95.42 178.66 L95.62 178.77 L95.83 178.82 L96.03 178.77 L96.23 178.62 L96.44 178.38 L96.64 178.08 L96.84 177.77 L97.05 177.49 L97.25 177.29 L97.45 177.19 L97.66 177.19 L97.86 177.25 L98.06 177.35 L98.26 177.43 L98.47 177.47 L98.67 177.42 L98.87 177.28 L99.08 177.06 L99.28 176.80 L99.48 176.54 L99.69 176.32 L99.89 176.16 L100.09 176.10 L100.30 176.11 L100.50 176.18 L100.70 176.27 L100.91 176.33 L101.11 176.34 L101.31 176.26 L101.51 176.10 L101.72 175.89 L101.92 175.64 L102.12 175.41 L102.33 175.22 L102.53 175.12 L102.73 175.10 L102.94 175.15 L103.14 175.24 L103.34 175.34 L103.55 175.40 L103.75 175.39 L103.95 175.30 L104.15 175.13 L104.36 174.90 L104.56 174.65 L104.76 174.42 L104.97 174.25 L105.17 174.16 L105.37 174.15 L105.58 174.22 L105.78 174.32 L105.98 174.42 L106.19 174.48 L106.39 174.46 L106.59 174.35 L106.79 174.17 L107.00 173.94 L107.20 173.68 L107.40 173.46 L107.61 173.29 L107.81 173.21 L108.01 173.20 L108.22 173.26 L108.42 173.35 L108.62 173.43 L108.83 173.46 L109.03 173.42 L109.23 173.29 L109.43 173.10 L109.64 172.85 L109.84 172.60 L110.04 172.38 L110.25 172.22 L110.45 172.13 L110.65 172.12 L110.86 172.16 L111.06 172.23 L111.26 172.27 L111.47 172.26 L111.67 172.18 L111.87 172.02 L112.07 171.80 L112.28 171.54 L112.48 171.28 L112.68 171.05 L112.89 170.89 L113.09 170.81 L113.29 170.80 L113.50 170.83 L113.70 170.88 L113.90 170.90 L114.11 170.86 L114.31 170.75 L114.51 170.57 L114.71 170.33 L114.92 170.06 L115.12 169.80 L115.32 169.59 L115.53 169.44 L115.73 169.37 L115.93 169.37 L116.14 169.40 L116.34 169.44 L116.54 169.46 L116.75 169.41 L116.95 169.29 L117.15 169.10 L117.35 168.86 L117.56 168.60 L117.76 168.36 L117.96 168.17 L118.17 168.05 L118.37 168.00 L118.57 168.01 L118.78 168.06 L118.98 168.11 L119.18 168.12 L119.39 168.08 L119.59 167.97 L119.79 167.79 L119.99 167.56 L120.20 167.33 L120.40 167.12 L120.60 166.96 L120.81 166.87 L121.01 166.85 L121.21 166.89 L121.42 166.95 L121.62 167.01 L121.82 167.03 L122.03 166.98 L122.23 166.87 L122.43 166.69 L122.63 166.49 L122.84 166.27 L123.04 166.09 L123.24 165.95 L123.45 165.89 L123.65 165.89 L123.85 165.93 L124.06 166.00 L124.26 166.05 L124.46 166.06 L124.67 166.01 L124.87 165.89 L125.07 165.71 L125.27 165.50 L125.48 165.30 L125.68 165.13 L125.88 165.01 L126.09 164.95 L126.29 164.96 L126.49 165.01 L126.70 165.07 L126.90 165.10 L127.10 165.09 L127.31 165.02 L127.51 164.88 L127.71 164.69 L127.91 164.48 L128.12 164.27 L128.32 164.10 L128.52 163.99 L128.73 163.93 L128.93 163.94 L129.13 163.97 L129.34 164.01 L129.54 164.02 L129.74 163.97 L129.95 163.87 L130.15 163.71 L130.35 163.50 L130.55 163.28 L130.76 163.05 L130.96 162.88 L131.16 162.76 L131.37 162.68 L131.57 162.67 L131.77 162.68 L131.98 162.68 L132.18 162.65 L132.38 162.58 L132.59 162.44 L132.79 162.24 L132.99 161.99 L133.19 161.73 L133.40 161.47 L133.60 161.25 L133.80 161.07 L134.01 160.93 L134.21 160.84 L134.41 160.76 L134.62 160.66 L134.82 160.53 L135.02 160.34 L135.23 160.10 L135.43 159.80 L135.63 159.47 L135.83 159.13 L136.04 158.83 L136.24 158.56 L136.44 158.36 L136.65 158.21 L136.85 158.12 L137.05 158.03 L137.26 157.96 L137.46 157.86 L137.66 157.70 L137.87 157.51 L138.07 157.26 L138.27 157.00 L138.47 156.74 L138.68 156.50 L138.88 156.32 L139.08 156.19 L139.29 156.10 L139.49 156.07 L139.69 156.02 L139.90 155.99 L140.10 155.90 L140.30 155.77 L140.51 155.58 L140.71 155.38 L140.91 155.14 L141.11 154.90 L141.32 154.70 L141.52 154.54 L141.72 154.43 L141.93 154.38 L142.13 154.35 L142.33 154.32 L142.54 154.29 L142.74 154.21 L142.94 154.08 L143.15 153.89 L143.35 153.67 L143.55 153.45 L143.75 153.22 L143.96 153.04 L144.16 152.90 L144.36 152.80 L144.57 152.75 L144.77 152.70 L144.97 152.69 L145.18 152.61 L145.38 152.52 L145.58 152.38 L145.79 152.17 L145.99 151.95 L146.19 151.70 L146.39 151.47 L146.60 151.30 L146.80 151.15 L147.00 151.05 L147.21 150.96 L147.41 150.90 L147.61 150.83 L147.82 150.76 L148.02 150.63 L148.22 150.42 L148.43 150.21 L148.63 149.96 L148.83 149.70 L149.03 149.46 L149.24 149.25 L149.44 149.07 L149.64 148.95 L149.85 148.85 L150.05 148.77 L150.25 148.67 L150.46 148.57 L150.66 148.39 L150.86 148.17 L151.07 147.90 L151.27 147.63 L151.47 147.35 L151.67 147.09 L151.88 146.88 L152.08 146.68 L152.28 146.49 L152.49 146.30 L152.69 146.11 L152.89 145.89 L153.10 145.65 L153.30 145.36 L153.50 145.02 L153.71 144.64 L153.91 144.25 L154.11 143.91 L154.31 143.57 L154.52 143.32 L154.72 143.07 L154.92 142.91 L155.13 142.85 L155.33 142.74 L155.53 142.71 L155.74 142.71 L155.94 142.70 L156.14 142.66 L156.35 142.65 L156.55 142.71 L156.75 142.79 L156.95 142.92 L157.16 143.05 L157.36 143.28 L157.56 143.59 L157.77 143.90 L157.97 144.18 L158.17 144.47 L158.38 144.76 L158.58 145.00 L158.78 145.22 L158.99 145.36 L159.19 145.49 L159.39 145.72 L159.59 145.83 L159.80 145.93 L160.00 146.18 L160.20 146.35 L160.41 146.60 L160.61 146.85 L160.81 147.07 L161.02 147.28 L161.22 147.35 L161.42 147.43 L161.63 147.54 L161.83 147.64 L162.03 147.72 L162.23 147.86 L162.44 148.02 L162.64 148.27 L162.84 148.47 L163.05 148.62 L163.25 148.82 L163.45 149.07 L163.66 149.18 L163.86 149.31 L164.06 149.32 L164.27 149.30 L164.47 149.38 L164.67 149.42 L164.87 149.55 L165.08 149.65 L165.28 149.70 L165.48 149.96 L165.69 150.08 L165.89 150.16 L166.09 150.27 L166.30 150.34 L166.50 150.40 L166.70 150.37 L166.91 150.43 L167.11 150.37 L167.31 150.33 L167.52 150.44 L167.72 150.47 L167.92 150.49 L168.12 150.71 L168.33 150.88 L168.53 150.89 L168.73 150.99 L168.94 150.92 L169.14 150.92 L169.34 150.94 L169.55 151.06 L169.75 150.82 L169.95 150.86 L170.16 150.95 L170.36 151.05 L170.56 151.14 L170.76 151.14 L170.97 151.07 L171.17 151.23 L171.37 151.38 L171.58 151.22 L171.78 151.09 L171.98 151.29 L172.19 151.21 L172.39 151.10 L172.59 150.90 L172.80 151.06 L173.00 150.91 L173.20 151.01 L173.40 151.01 L173.61 151.14 L173.81 151.42 L174.01 151.40 L174.22 151.36 L174.42 151.29 L174.62 151.09 L174.83 150.97 L175.03 150.97 L175.23 151.17 L175.44 151.05 L175.64 150.91 L175.84 151.06 L176.04 151.20 L176.25 151.15 L176.45 151.17 L176.65 151.35 L176.86 151.50 L177.06 151.17 L177.26 151.19 L177.47 151.29 L177.67 151.13 L177.87 151.15 L178.08 151.20 L178.28 151.30 L178.48 150.98 L178.68 151.33 L178.89 151.13 L179.09 151.21 L179.29 151.16 L179.50 151.20 L179.70 151.55 L179.90 151.07 L180.11 150.92 L180.31 151.01 L180.51 151.31 L180.72 151.18 L180.92 151.25 L181.12 151.40 L181.32 151.24 L181.53 151.63 L181.73 151.47 L181.93 151.34 L182.14 151.28 L182.34 151.75 L182.54 151.54 L182.75 151.31 L182.95 151.24 L183.15 151.31 L183.36 150.87 L183.56 150.97 L183.76 151.51 L183.96 151.61 L184.17 151.87 L184.37 151.67 L184.57 151.78 L184.78 151.59 L184.98 151.38 L185.18 151.37 L185.39 151.79 L185.59 151.75 L185.79 151.71 L186.00 151.44 L186.20 151.13 L186.40 151.06 L186.60 152.03 L186.81 151.21 L187.01 151.52 L187.21 152.03 L187.42 151.29 L187.62 151.93 L187.82 151.20 L188.03 151.82 L188.23 151.71 L188.43 151.18 L188.64 151.29 L188.84 151.39 L189.04 151.77 L189.24 152.30 L189.45 151.86 L189.65 151.70 L189.85 151.65 L190.06 151.29 L190.26 151.97 L190.46 151.65 L190.67 152.23 L190.87 151.63 L191.07 152.36 L191.28 151.58 L191.48 151.79 L191.68 151.30 L191.88 152.43 L192.09 151.14 L192.29 151.42 L192.49 151.65 L192.70 152.59 L192.90 152.11 L193.10 151.46 L193.31 152.63 L193.51 152.48 L193.71 150.87 L193.92 151.36 L194.12 152.41 L194.32 152.89 L194.52 152.70 L194.73 153.08 L194.93 151.37 L195.13 151.06 L195.34 152.03 L195.54 151.06 L195.74 152.48 L195.95 153.11 L196.15 151.85 L196.35 152.32 L196.56 151.88 L196.76 151.36 L196.96 151.31 L197.16 153.06 L197.37 153.67 L197.57 152.12 L197.77 151.42 L197.98 153.47 L198.18 151.68 L198.38 153.23 L198.59 152.86 L198.79 151.77 L198.99 152.49 L199.20 152.09 L199.40 151.33 L199.30 152.00 L199.36 150.00 L199.93 147.90 L200.00 145.80 L199.93 143.70 L199.36 141.60 L199.33 139.50 L199.47 137.40 L199.86 135.30 L199.72 133.20 L199.28 131.10 L199.51 129.00 L199.60 128.00 L199.49 130.00 L200.06 132.30 L200.12 134.60 L199.59 136.90 L200.20 139.20 L199.76 141.50 L199.65 143.80 L199.29 146.10 L199.58 148.40 L200.11 150.70 L200.10 153.00 L200.40 159.50 L200.20 154.00 L200.60 152.00 L199.80 152.88 L200.01 153.52 L200.21 151.33 L200.41 151.60 L200.62 150.97 L200.82 153.75 L201.02 151.11 L201.23 151.85 L201.43 150.93 L201.63 152.18 L201.84 152.56 L202.04 152.32 L202.24 152.76 L202.44 151.61 L202.65 153.35 L202.85 152.93 L203.05 151.46 L203.26 152.00 L203.46 150.91 L203.66 152.69 L203.87 152.78 L204.07 151.94 L204.27 151.61 L204.48 152.59 L204.68 151.71 L204.88 151.14 L205.08 152.41 L205.29 151.89 L205.49 152.98 L205.69 151.98 L205.90 151.15 L206.10 152.29 L206.30 152.53 L206.51 151.01 L206.71 151.37 L206.91 151.68 L207.12 152.10 L207.32 152.15 L207.52 152.06 L207.72 152.45 L207.93 152.23 L208.13 151.10 L208.33 152.44 L208.54 152.14 L208.74 151.83 L208.94 151.92 L209.15 151.95 L209.35 150.90 L209.55 151.73 L209.76 151.14 L209.96 151.36 L210.16 152.11 L210.36 151.79 L210.57 151.47 L210.77 151.29 L210.97 151.56 L211.18 151.05 L211.38 151.30 L211.58 151.77 L211.79 151.22 L211.99 151.40 L212.19 151.90 L212.40 151.35 L212.60 151.33 L212.80 151.51 L213.00 151.50 L213.21 152.02 L213.41 151.07 L213.61 151.13 L213.82 151.63 L214.02 150.86 L214.22 151.21 L214.43 151.42 L214.63 150.91 L214.83 151.19 L215.04 151.22 L215.24 151.47 L215.44 151.60 L215.64 151.71 L215.85 151.18 L216.05 151.23 L216.25 151.53 L216.46 151.53 L216.66 151.08 L216.86 150.87 L217.07 150.93 L217.27 151.40 L217.47 151.03 L217.68 151.15 L217.88 151.20 L218.08 151.38 L218.28 151.52 L218.49 151.18 L218.69 151.32 L218.89 151.50 L219.10 151.18 L219.30 151.12 L219.50 151.23 L219.71 151.14 L219.91 151.12 L220.11 151.39 L220.32 151.11 L220.52 151.20 L220.72 151.61 L220.92 151.26 L221.13 151.13 L221.33 151.11 L221.53 151.39 L221.74 150.98 L221.94 151.08 L222.14 151.15 L222.35 150.87 L222.55 151.03 L222.75 151.27 L222.96 151.16 L223.16 151.25 L223.36 151.35 L223.56 151.43 L223.77 151.20 L223.97 151.08 L224.17 150.96 L224.38 150.98 L224.58 151.07 L224.78 151.15 L224.99 151.03 L225.19 150.97 L225.39 151.19 L225.60 151.10 L225.80 151.16 L226.00 151.18 L226.20 151.40 L226.41 151.26 L226.61 151.02 L226.81 151.20 L227.02 150.99 L227.22 150.89 L227.42 151.02 L227.63 151.00 L227.83 151.08 L228.03 151.09 L228.24 151.08 L228.44 151.06 L228.64 151.20 L228.84 151.10 L229.05 151.01 L229.25 150.94 L229.45 150.81 L229.66 150.80 L229.86 150.69 L230.06 150.69 L230.27 150.54 L230.47 150.63 L230.67 150.71 L230.88 150.69 L231.08 150.60 L231.28 150.62 L231.48 150.51 L231.69 150.34 L231.89 150.29 L232.09 150.05 L232.30 149.94 L232.50 149.88 L232.70 149.82 L232.91 149.91 L233.11 149.80 L233.31 149.90 L233.52 149.73 L233.72 149.67 L233.92 149.62 L234.13 149.50 L234.33 149.33 L234.53 149.06 L234.73 148.93 L234.94 148.71 L235.14 148.57 L235.34 148.45 L235.55 148.36 L235.75 148.36 L235.95 148.28 L236.16 148.11 L236.36 148.04 L236.56 147.83 L236.77 147.61 L236.97 147.40 L237.17 147.24 L237.37 147.01 L237.58 146.79 L237.78 146.58 L237.98 146.51 L238.19 146.38 L238.39 146.30 L238.59 146.23 L238.80 146.08 L239.00 145.92 L239.20 145.68 L239.41 145.44 L239.61 145.18 L239.81 144.85 L240.01 144.51 L240.22 144.22 L240.42 144.00 L240.62 143.80 L240.83 143.60 L241.03 143.42 L241.23 143.35 L241.44 143.21 L241.64 143.04 L241.84 142.85 L242.05 142.71 L242.25 142.56 L242.45 142.44 L242.65 142.41 L242.86 142.44 L243.06 142.55 L243.26 142.72 L243.47 142.96 L243.67 143.28 L243.87 143.54 L244.08 143.86 L244.28 144.14 L244.48 144.38 L244.69 144.60 L244.89 144.85 L245.09 145.08 L245.29 145.30 L245.50 145.56 L245.70 145.89 L245.90 146.20 L246.11 146.55 L246.31 146.89 L246.51 147.18 L246.72 147.41 L246.92 147.61 L247.12 147.74 L247.33 147.88 L247.53 147.96 L247.73 148.09 L247.93 148.20 L248.14 148.37 L248.34 148.58 L248.54 148.81 L248.75 149.09 L248.95 149.33 L249.15 149.57 L249.36 149.80 L249.56 149.95 L249.76 150.04 L249.97 150.13 L250.17 150.22 L250.37 150.29 L250.57 150.39 L250.78 150.55 L250.98 150.72 L251.18 150.95 L251.39 151.19 L251.59 151.42 L251.79 151.64 L252.00 151.81 L252.20 151.93 L252.40 152.01 L252.61 152.06 L252.81 152.12 L253.01 152.15 L253.21 152.24 L253.42 152.37 L253.62 152.55 L253.82 152.75 L254.03 152.99 L254.23 153.21 L254.43 153.41 L254.64 153.55 L254.84 153.66 L255.04 153.71 L255.25 153.75 L255.45 153.77 L255.65 153.82 L255.85 153.91 L256.06 154.03 L256.26 154.23 L256.46 154.44 L256.67 154.68 L256.87 154.90 L257.07 155.08 L257.28 155.23 L257.48 155.32 L257.68 155.37 L257.89 155.40 L258.09 155.43 L258.29 155.49 L258.49 155.59 L258.70 155.75 L258.90 155.97 L259.10 156.20 L259.31 156.47 L259.51 156.71 L259.71 156.90 L259.92 157.06 L260.12 157.17 L260.32 157.23 L260.53 157.28 L260.73 157.34 L260.93 157.42 L261.13 157.57 L261.34 157.78 L261.54 158.05 L261.74 158.36 L261.95 158.68 L262.15 158.97 L262.35 159.24 L262.56 159.44 L262.76 159.60 L262.96 159.72 L263.17 159.81 L263.37 159.92 L263.57 160.08 L263.77 160.27 L263.98 160.52 L264.18 160.82 L264.38 161.13 L264.59 161.42 L264.79 161.69 L264.99 161.90 L265.20 162.03 L265.40 162.09 L265.60 162.11 L265.81 162.12 L266.01 162.13 L266.21 162.19 L266.41 162.30 L266.62 162.48 L266.82 162.69 L267.02 162.93 L267.23 163.16 L267.43 163.35 L267.63 163.48 L267.84 163.55 L268.04 163.56 L268.24 163.54 L268.45 163.51 L268.65 163.50 L268.85 163.55 L269.05 163.64 L269.26 163.81 L269.46 164.01 L269.66 164.23 L269.87 164.43 L270.07 164.59 L270.27 164.69 L270.48 164.73 L270.68 164.71 L270.88 164.66 L271.09 164.61 L271.29 164.59 L271.49 164.63 L271.69 164.73 L271.90 164.89 L272.10 165.08 L272.30 165.29 L272.51 165.49 L272.71 165.63 L272.91 165.70 L273.12 165.71 L273.32 165.68 L273.52 165.61 L273.73 165.56 L273.93 165.54 L274.13 165.58 L274.33 165.69 L274.54 165.86 L274.74 166.06 L274.94 166.28 L275.15 166.46 L275.35 166.59 L275.55 166.66 L275.76 166.66 L275.96 166.61 L276.16 166.54 L276.37 166.49 L276.57 166.49 L276.77 166.54 L276.97 166.67 L277.18 166.86 L277.38 167.08 L277.58 167.31 L277.79 167.50 L277.99 167.63 L278.19 167.69 L278.40 167.69 L278.60 167.64 L278.80 167.59 L279.01 167.55 L279.21 167.57 L279.41 167.66 L279.61 167.82 L279.82 168.04 L280.02 168.29 L280.22 168.53 L280.43 168.73 L280.63 168.87 L280.83 168.94 L281.04 168.94 L281.24 168.90 L281.44 168.86 L281.65 168.85 L281.85 168.90 L282.05 169.01 L282.25 169.21 L282.46 169.45 L282.66 169.71 L282.86 169.96 L283.07 170.17 L283.27 170.30 L283.47 170.36 L283.68 170.35 L283.88 170.31 L284.08 170.27 L284.29 170.27 L284.49 170.33 L284.69 170.47 L284.89 170.68 L285.10 170.94 L285.30 171.21 L285.50 171.45 L285.71 171.64 L285.91 171.75 L286.11 171.79 L286.32 171.76 L286.52 171.70 L286.72 171.65 L286.93 171.65 L287.13 171.71 L287.33 171.86 L287.53 172.07 L287.74 172.32 L287.94 172.58 L288.14 172.81 L288.35 172.98 L288.55 173.06 L288.75 173.06 L288.96 173.00 L289.16 172.92 L289.36 172.85 L289.57 172.83 L289.77 172.89 L289.97 173.02 L290.17 173.23 L290.38 173.47 L290.58 173.71 L290.78 173.92 L290.99 174.06 L291.19 174.11 L291.39 174.09 L291.60 174.01 L291.80 173.92 L292.00 173.85 L292.21 173.83 L292.41 173.90 L292.61 174.04 L292.81 174.25 L293.02 174.48 L293.22 174.72 L293.42 174.90 L293.63 175.01 L293.83 175.04 L294.03 174.99 L294.24 174.90 L294.44 174.81 L294.64 174.74 L294.85 174.75 L295.05 174.84 L295.25 175.01 L295.45 175.24 L295.66 175.49 L295.86 175.72 L296.06 175.90 L296.27 175.99 L296.47 175.99 L296.67 175.92 L296.88 175.81 L297.08 175.71 L297.28 175.65 L297.49 175.68 L297.69 175.80 L297.89 176.01 L298.09 176.27 L298.30 176.56 L298.50 176.81 L298.70 177.00 L298.91 177.10 L299.11 177.10 L299.31 177.03 L299.52 176.91 L299.72 176.81 L299.92 176.76 L300.13 176.79 L300.33 176.92 L300.53 177.13 L300.74 177.42 L300.94 177.71 L301.14 177.97 L301.34 178.18 L301.55 178.29 L301.75 178.32 L301.95 178.27 L302.16 178.20 L302.36 178.12 L302.56 178.10 L302.77 178.15 L302.97 178.28 L303.17 178.50 L303.38 178.75 L303.58 179.01 L303.78 179.24 L303.98 179.40 L304.19 179.48 L304.39 179.49 L304.59 179.46 L304.80 179.40 L305.00 179.39 L305.20 179.44 L305.41 179.56 L305.61 179.76 L305.81 180.01 L306.02 180.28 L306.22 180.54 L306.42 180.71 L306.62 180.81 L306.83 180.79 L307.03 180.71 L307.23 180.60 L307.44 180.49 L307.64 180.45 L307.84 180.52 L308.05 180.69 L308.25 180.99 L308.45 181.34 L308.66 181.71 L308.86 182.02 L309.06 182.25 L309.26 182.35 L309.47 182.33 L309.67 182.19 L309.87 181.97 L310.08 181.74 L310.28 181.59 L310.48 181.53 L310.69 181.60 L310.89 181.86 L311.09 182.18 L311.30 182.56 L311.50 182.97 L311.70 183.33 L311.90 183.55 L312.11 183.69 L312.31 183.70 L312.51 183.55 L312.72 183.42 L312.92 183.28 L313.12 183.14 L313.33 183.07 L313.53 183.08 L313.73 183.27 L313.94 183.46 L314.14 183.65 L314.34 183.82 L314.54 184.05 L314.75 184.24 L314.95 184.35 L315.15 184.53 L315.36 184.62 L315.56 184.69 L315.76 184.88 L315.97 185.12 L316.17 185.24 L316.37 185.31 L316.58 185.20 L316.78 185.10 L316.98 184.97 L317.18 184.64 L317.39 184.55 L317.59 184.31 L317.79 184.31 L318.00 184.42 L318.20 184.69 L318.40 185.30 L318.61 185.78 L318.81 186.50 L319.01 187.06 L319.22 187.55 L319.42 187.70 L319.62 187.50 L319.82 187.04 L320.03 186.36 L320.23 185.54 L320.43 184.93 L320.64 184.20 L320.84 184.01 L321.04 184.28 L321.25 184.59 L321.45 185.24 L321.65 186.43 L321.86 187.52 L322.06 188.42 L322.26 188.98 L322.46 189.70 L322.67 189.70 L322.87 189.27 L323.07 188.47 L323.28 187.41 L323.48 186.38 L323.68 185.53 L323.89 184.74 L324.09 184.25 L324.29 184.42 L324.50 184.38 L324.70 185.01 L324.90 186.08 L325.10 187.67 L325.31 188.47 L325.51 189.90 L325.71 190.71 L325.92 191.13 L326.12 192.15 L326.32 191.17 L326.53 190.87 L326.73 189.14 L326.93 188.16 L327.14 185.55 L327.34 184.36 L327.54 183.10 L327.74 183.28 L327.95 182.78 L328.15 184.24 L328.35 185.37 L328.56 187.41 L328.76 191.32 L328.96 193.60 L329.17 195.69 L329.37 204.16 L329.57 204.21 L329.78 202.85 L329.98 176.54 L330.18 176.85 L330.38 178.02 L330.59 188.13 L330.79 189.73 L330.99 187.82 L331.20 188.00 L331.40 188.22" stroke="#0000ff" stroke-width="1.15" stroke-dasharray="1.3 2.97"/>
<path d="M285 23.7H317" stroke="#ff0000" stroke-width="1.3"/>
<path d="M285 36H317" stroke="#00a000" stroke-width="1.5" stroke-dasharray="6 12"/>
<path d="M284.7 48H316.5" stroke="#0000ff" stroke-width="1.25" stroke-dasharray="1.4 2.87"/>
</g>
<text x="59.6" y="210.00" text-anchor="end">-200</text>
<text x="59.6" y="182.67" text-anchor="end">-100</text>
<text x="59.6" y="155.35" text-anchor="end">0</text>
<text x="59.6" y="128.03" text-anchor="end">100</text>
<text x="59.6" y="100.70" text-anchor="end">200</text>
<text x="59.6" y="73.38" text-anchor="end">300</text>
<text x="59.6" y="46.05" text-anchor="end">400</text>
<text x="59.6" y="18.73" text-anchor="end">500</text>
<text x="68.50" y="222.6" text-anchor="middle">0</text>
<text x="121.50" y="222.6" text-anchor="middle">0.2</text>
<text x="174.50" y="222.6" text-anchor="middle">0.4</text>
<text x="227.50" y="222.6" text-anchor="middle">0.6</text>
<text x="280.50" y="222.6" text-anchor="middle">0.8</text>
<text x="333.50" y="222.6" text-anchor="middle">1</text>
<text x="277.5" y="27.7" text-anchor="end">Dimer</text>
<text x="277.5" y="39.5" text-anchor="end">Haldane</text>
<text x="277.5" y="51.8" text-anchor="end">Critical</text>
<text x="199.4" y="240.9" text-anchor="middle">kπ/d</text>
<text transform="translate(21 109.8) rotate(-90)" text-anchor="middle">W</text>
</svg>
</body></html>
